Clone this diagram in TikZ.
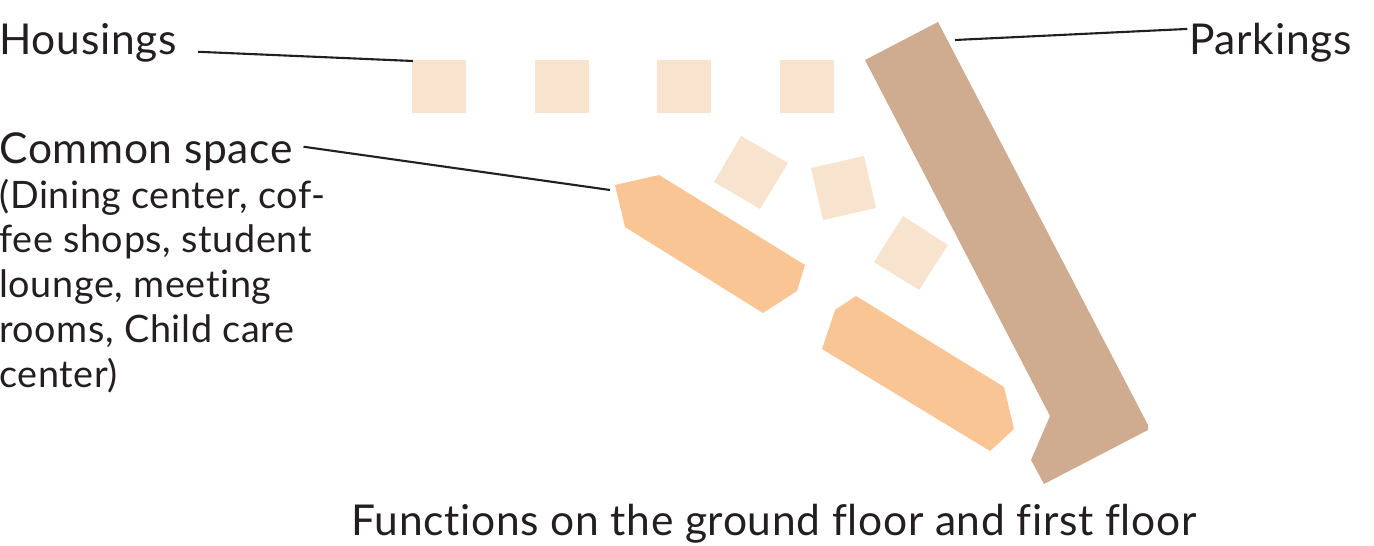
\documentclass[tikz,border=0pt]{standalone}
\usepackage{fontspec}
\setmainfont[LetterSpace=1.6, Ligatures=NoCommon]{Lato}
\usetikzlibrary{positioning}

\definecolor{housingcol}{HTML}{F7E3CE}
\definecolor{commoncol}{HTML}{FAC594}
\definecolor{parkingcol}{HTML}{CFAC90}
\definecolor{inkcol}{HTML}{231F20}

\tikzset{
  housing/.style={fill=housingcol},
  common/.style={fill=commoncol},
  parking/.style={fill=parkingcol},
  leader/.style={draw=inkcol, line width=1.2pt},
  biglabel/.style={inner sep=0pt, text=inkcol, font=\fontsize{24.2}{29}\selectfont},
  smalllabel/.style={inner sep=0pt, text=inkcol, align=left, font=\fontsize{21.5}{25.5}\selectfont}
}

\begin{document}
\begin{tikzpicture}[x=0.02cm, y=-0.02cm]
\useasboundingbox (0,0) rectangle (1374,546);

% Housing squares, top row
\foreach \x in {412, 535, 657, 780} {
    \fill[housing] (\x,60) rectangle ++(54,53);
}

% Housing squares, tilted
\fill[housing] (741,136) -- (788,163) -- (760,209) -- (714,182) -- cycle;
\fill[housing] (811,168) -- (864,156) -- (876,208) -- (823,220) -- cycle;
\fill[housing] (903,216) -- (948,245) -- (919,290) -- (874,262) -- cycle;

% Common space
\fill[common] (615,185) -- (659,175) -- (805,265) -- (797,291) -- (763,313) -- (625,227) -- cycle;
\fill[common] (856,296) -- (835,310) -- (822,349) -- (990,451) -- (1014,429) -- (1004,387) -- cycle;

% Parking
\fill[parking] (938,22) -- (865,60) -- (1050,416) -- (1031,460) -- (1044,484) -- (1148,430) -- (1148,425) -- cycle;

% Labels
\node[biglabel, anchor=west] (housings) at (-1,43) {Housings};
\node[biglabel, anchor=east] (parkings) at (1352,43) {Parkings};
\node[biglabel, anchor=west] (commonspace) at (-1,152) {Common space};
\node[smalllabel, below=4pt of commonspace.south west, anchor=north west] (commondetail)
    {(Dining center, cof-\\fee shops, student\\lounge, meeting\\rooms, Child care\\center)};
\node[biglabel, anchor=center] (caption) at (774,524) {Functions on the ground floor and first floor};

% Leader lines
\coordinate (housingsend) at (413,61);
\coordinate (parkingsend) at (955,40);
\coordinate (commonend) at (610,190);
\draw[leader] ([xshift=12pt, yshift=-5pt]housings.east) -- (housingsend);
\draw[leader] ([xshift=-1pt, yshift=8pt]parkings.west) -- (parkingsend);
\draw[leader] ([xshift=6pt, yshift=3pt]commonspace.east) -- (commonend);

\end{tikzpicture}
\end{document}
